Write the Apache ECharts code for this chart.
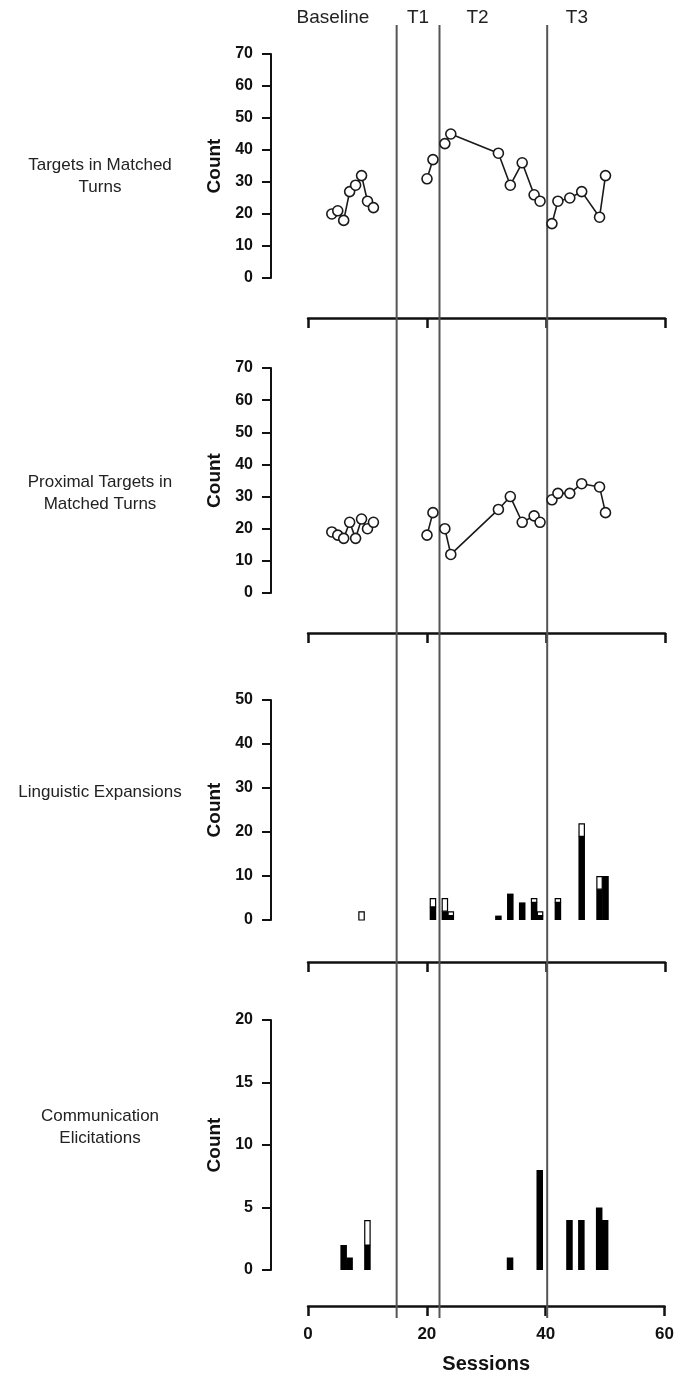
<!DOCTYPE html>
<html>
<head>
<meta charset="utf-8">
<script src="https://cdn.jsdelivr.net/npm/echarts@6/dist/echarts.min.js"></script>
<style>
  html, body { margin: 0; padding: 0; background: #fff; }
  #chart { width: 677px; height: 1376px; }
</style>
</head>
<body>
<div id="chart"></div>
<script>
// Phase changes (session numbers) and the phase captions along the top
const phaseBreaks = [14.9, 22.1, 40.2];
const phaseLabels = ['Baseline', 'T1', 'T2', 'T3'];
const phaseLabelAt = [4.2, 18.5, 28.5, 45.2];
const sessionTicks = [0, 20, 40, 60];

// Targets in matched turns
const matchedSessions = [4, 5, 6, 7, 8, 9, 10, 11, 20, 21, 23, 24, 32, 34, 36, 38, 39, 41, 42, 44, 46, 49, 50];
const matchedCounts   = [20, 21, 18, 27, 29, 32, 24, 22, 31, 37, 42, 45, 39, 29, 36, 26, 24, 17, 24, 25, 27, 19, 32];

// Proximal targets in matched turns
const proximalSessions = [4, 5, 6, 7, 8, 9, 10, 11, 20, 21, 23, 24, 32, 34, 36, 38, 39, 41, 42, 44, 46, 49, 50];
const proximalCounts   = [19, 18, 17, 22, 17, 23, 20, 22, 18, 25, 20, 12, 26, 30, 22, 24, 22, 29, 31, 31, 34, 33, 25];

// Linguistic expansions (filled part + open part stacked on top)
const expansionSessions = [9, 21, 23, 24, 32, 34, 36, 38, 39, 42, 46, 49, 50];
const expansionFilled   = [0, 3, 2, 1, 1, 6, 4, 4, 1, 4, 19, 7, 10];
const expansionOpen     = [2, 2, 3, 1, 0, 0, 0, 1, 1, 1, 3, 3, 0];

// Communication elicitations
const elicitSessions = [6, 7, 10, 34, 39, 44, 46, 49, 50];
const elicitFilled   = [2, 1, 2, 1, 8, 4, 4, 5, 4];
const elicitOpen     = [0, 0, 2, 0, 0, 0, 0, 0, 0];

const rowTitles = ['Targets in Matched\nTurns', 'Proximal Targets in\nMatched Turns', 'Linguistic Expansions', 'Communication\nElicitations'];
const yMax = [70, 70, 50, 20];
const yStep = [10, 10, 10, 5];

const FONT = 'Liberation Sans, Arial, Helvetica, sans-serif';
const INK = '#111';

// plot boxes; titleShift moves each row title relative to the plot's middle
const panels = [
  { top: 54, height: 224, xOffset: 40, titleShift: 10 },
  { top: 368, height: 225, xOffset: 40, titleShift: 13 },
  { top: 700, height: 220, xOffset: 42, titleShift: -18 },
  { top: 1020, height: 250, xOffset: 36, titleShift: -18 }
];
const PLOT_LEFT = 308, PLOT_WIDTH = 357;

const chart = echarts.init(document.getElementById('chart'), null, { renderer: 'canvas' });

// split a session series into one polyline per phase
function phaseOf(s) {
  let p = 0;
  phaseBreaks.forEach(b => { if (s > b) p++; });
  return p;
}
function phaseSegments(sessions, values) {
  const segs = [[], [], [], []];
  sessions.forEach((s, i) => segs[phaseOf(s)].push([s, values[i]]));
  return segs.filter(d => d.length);
}

function lineSeries(sessions, values, idx) {
  return phaseSegments(sessions, values).map(d => ({
    type: 'line',
    xAxisIndex: idx, yAxisIndex: idx,
    data: d,
    symbol: 'circle',
    symbolSize: 10,
    showAllSymbol: true,
    itemStyle: { color: '#fff', borderColor: '#1a1a1a', borderWidth: 1.6 },
    lineStyle: { color: '#1a1a1a', width: 1.6 },
    emphasis: { disabled: true },
    animation: false,
    z: 3
  }));
}

function barSeries(sessions, filled, open, idx) {
  return {
    type: 'custom',
    xAxisIndex: idx, yAxisIndex: idx,
    data: sessions.map((s, i) => [s, filled[i], open[i]]),
    animation: false,
    renderItem: function (params, api) {
      const s = api.value(0), f = api.value(1), o = api.value(2);
      const w = api.size([1, 0])[0] * 1.1;
      const base = api.coord([s, 0]);
      const fTop = api.coord([s, f]);
      const oTop = api.coord([s, f + o]);
      const children = [];
      if (f > 0) {
        children.push({
          type: 'rect',
          shape: { x: base[0] - w / 2, y: fTop[1], width: w, height: base[1] - fTop[1] },
          style: { fill: '#000' }
        });
      }
      if (o > 0) {
        children.push({
          type: 'rect',
          shape: { x: base[0] - w / 2 + 0.6, y: oTop[1] + 0.6, width: w - 1.2, height: fTop[1] - oTop[1] - 0.6 },
          style: { fill: '#fff', stroke: '#000', lineWidth: 1.2 }
        });
      }
      return { type: 'group', children: children };
    }
  };
}

const grids = panels.map(p => ({ left: PLOT_LEFT, width: PLOT_WIDTH, top: p.top, height: p.height }));

const xAxes = panels.map((p, i) => ({
  type: 'value', gridIndex: i, min: 0, max: 60, interval: 20,
  offset: p.xOffset,
  axisLine: { show: true, onZero: false, lineStyle: { color: INK, width: 2.5 } },
  axisTick: { show: true, length: 10, lineStyle: { color: INK, width: 2.5 } },
  axisLabel: {
    show: i === 3, margin: 20, color: INK, fontFamily: FONT, fontWeight: 'bold', fontSize: 17,
    formatter: v => sessionTicks.indexOf(v) >= 0 ? String(v) : ''
  },
  splitLine: { show: false },
  name: i === 3 ? 'Sessions' : '',
  nameLocation: 'middle', nameGap: 48,
  nameTextStyle: { color: INK, fontFamily: FONT, fontWeight: 'bold', fontSize: 20 }
}));

const yAxes = panels.map((p, i) => ({
  type: 'value', gridIndex: i, min: 0, max: yMax[i], interval: yStep[i],
  offset: 37,
  axisLine: { show: true, onZero: false, lineStyle: { color: INK, width: 2 } },
  axisTick: { show: true, length: 9, lineStyle: { color: INK, width: 2 } },
  axisLabel: { margin: 18, color: INK, fontFamily: FONT, fontWeight: 'bold', fontSize: 16 },
  splitLine: { show: false },
  name: 'Count', nameLocation: 'middle', nameGap: 44, nameRotate: 90,
  nameTextStyle: { color: INK, fontFamily: FONT, fontWeight: 'bold', fontSize: 19 }
}));

const series = []
  .concat(lineSeries(matchedSessions, matchedCounts, 0))
  .concat(lineSeries(proximalSessions, proximalCounts, 1))
  .concat([barSeries(expansionSessions, expansionFilled, expansionOpen, 2)])
  .concat([barSeries(elicitSessions, elicitFilled, elicitOpen, 3)]);

chart.setOption({
  backgroundColor: '#fff',
  animation: false,
  grid: grids,
  xAxis: xAxes,
  yAxis: yAxes,
  series: series
});

// phase-change lines, phase captions and row titles
const graphics = [];
phaseBreaks.forEach(b => {
  const px = chart.convertToPixel({ xAxisIndex: 0 }, b);
  graphics.push({
    type: 'line', silent: true, z: 1,
    shape: { x1: px, y1: 25, x2: px, y2: 1318 },
    style: { stroke: '#555', lineWidth: 2 }
  });
});
phaseLabels.forEach((t, i) => {
  const px = chart.convertToPixel({ xAxisIndex: 0 }, phaseLabelAt[i]);
  graphics.push({
    type: 'text', silent: true,
    x: px, y: 18,
    style: { text: t, fill: '#222', font: '19px ' + FONT, textAlign: 'center', textVerticalAlign: 'middle' }
  });
});
rowTitles.forEach((t, i) => {
  const p = panels[i];
  graphics.push({
    type: 'text', silent: true,
    x: 100, y: p.top + p.height / 2 + p.titleShift,
    style: { text: t, fill: '#222', font: '17px ' + FONT, textAlign: 'center', textVerticalAlign: 'middle', lineHeight: 22 }
  });
});
chart.setOption({ graphic: graphics });
</script>
</body>
</html>
